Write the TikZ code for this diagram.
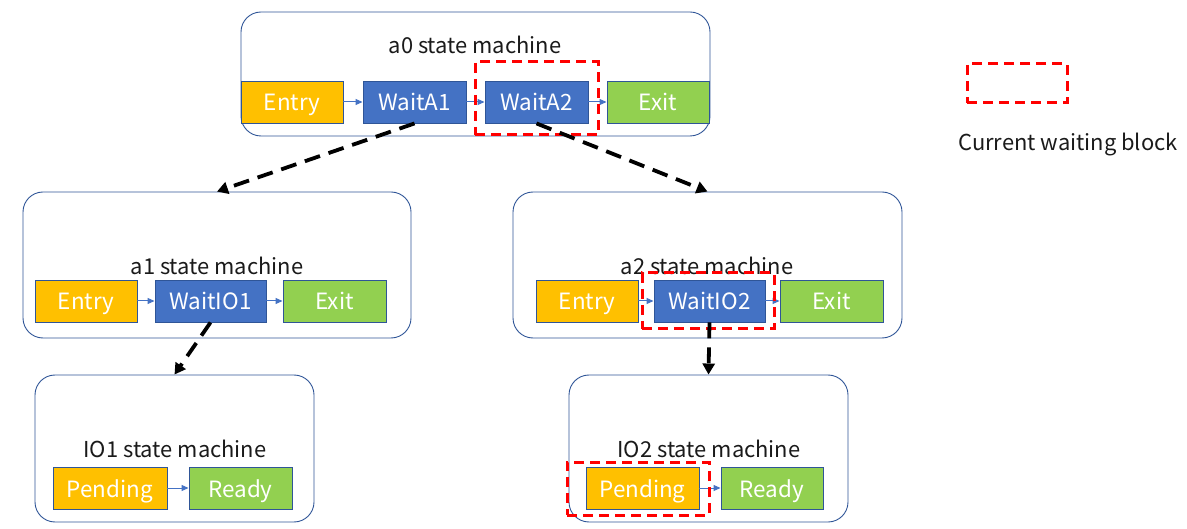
\documentclass[tikz,border=0pt]{standalone}
\usepackage{fontspec}
\setmainfont{Noto Sans CJK SC}
\usetikzlibrary{arrows.meta}
\definecolor{frameblue}{HTML}{2F5597}
\definecolor{stateblue}{HTML}{4472C4}
\definecolor{stateorange}{HTML}{FFC000}
\definecolor{stategreen}{HTML}{92D050}
\definecolor{titletext}{HTML}{1A1A1A}
\tikzset{
  machine/.style={draw=frameblue, line width=0.9bp, rounded corners=20bp, inner sep=0pt},
  title/.style={text=titletext, font=\fontsize{22}{26}\selectfont, inner sep=0pt,
                text height=18bp, text depth=0bp},
  state/.style={draw=frameblue, line width=0.9bp, minimum height=42bp, inner sep=0pt,
                text=white, font=\fontsize{22.5}{26}\selectfont,
                text height=18bp, text depth=0bp},
  entrybox/.style={state, fill=stateorange},
  waitbox/.style={state, fill=stateblue},
  exitbox/.style={state, fill=stategreen},
  current/.style={draw=red, line width=3bp, dash pattern=on 10bp off 6bp, inner sep=0pt},
  flow/.style={draw=stateblue, line width=1bp, -{Triangle[length=7bp,width=6bp]}},
  descend/.style={draw=black, line width=3.8bp, dash pattern=on 16bp off 9bp,
                  -{Triangle[length=11bp,width=12bp]}},
}
\begin{document}
\begin{tikzpicture}[x=1bp,y=-1bp]
\useasboundingbox (0,0) rectangle (1187,529);

% containers
\node[machine, minimum width=469bp, minimum height=124bp] (a0) at (475.5,74) {};
\node[machine, minimum width=388bp, minimum height=146bp] (a1) at (217,265) {};
\node[machine, minimum width=389bp, minimum height=146bp] (a2) at (707.5,265) {};
\node[machine, minimum width=279bp, minimum height=147bp] (io1) at (174.5,448.5) {};
\node[machine, minimum width=279bp, minimum height=147bp] (io2) at (708.5,448.5) {};

% titles (baseline sits 9bp below the given point)
\node[title] (t0) at (475,45) {a0 state machine};
\node[title] (t1) at (217,266) {a1 state machine};
\node[title] (t2) at (707,266) {a2 state machine};
\node[title] (t3) at (175,448) {IO1 state machine};
\node[title] (t4) at (709,448) {IO2 state machine};

% a0 states
\node[entrybox, minimum width=102bp] (a0entry) at (292,102) {Entry};
\node[waitbox, minimum width=103bp] (waitA1) at (414.5,102) {WaitA1};
\node[waitbox, minimum width=103bp] (waitA2) at (536.5,102) {WaitA2};
\node[exitbox, minimum width=102bp] (a0exit) at (658,102) {Exit};

% a1 states
\node[entrybox, minimum width=102bp] (a1entry) at (86,301) {Entry};
\node[waitbox, minimum width=111bp] (waitIO1) at (210.5,301) {WaitIO1};
\node[exitbox, minimum width=103bp] (a1exit) at (334.5,301) {Exit};

% a2 states
\node[entrybox, minimum width=102bp] (a2entry) at (587,301) {Entry};
\node[waitbox, minimum width=111bp] (waitIO2) at (709.5,301) {WaitIO2};
\node[exitbox, minimum width=103bp] (a2exit) at (831.5,301) {Exit};

% IO1 states
\node[entrybox, minimum width=114bp] (io1pend) at (110,488) {Pending};
\node[exitbox, minimum width=103bp] (io1ready) at (240.5,488) {Ready};

% IO2 states
\node[entrybox, minimum width=113bp] (io2pend) at (642.5,488) {Pending};
\node[exitbox, minimum width=102bp] (io2ready) at (772,488) {Ready};

% transitions
\draw[flow] (a0entry) -- (waitA1);
\draw[flow] (waitA1) -- (waitA2);
\draw[flow] (waitA2) -- (a0exit);
\draw[flow] (a1entry) -- (waitIO1);
\draw[flow] (waitIO1) -- (a1exit);
\draw[flow] (a2entry) -- (waitIO2);
\draw[flow] (waitIO2) -- (a2exit);
\draw[flow] (io1pend) -- (io1ready);
\draw[flow] (io2pend) -- (io2ready);

% current waiting blocks
\node[current, minimum width=123bp, minimum height=73bp] (curA2) at (536.5,98.5) {};
\node[current, minimum width=132bp, minimum height=56bp] (curIO2) at (708,301) {};
\node[current, minimum width=142bp, minimum height=53bp] (curPend) at (638,488.5) {};

% calls into sub-machines
\draw[descend] (waitA1.south) -- (a1.north);
\draw[descend] (waitA2.south) -- (a2.north);
\draw[descend] (waitIO1.south) -- (io1.north);
\draw[descend] (waitIO2.south) -- (io2.north);

% legend
\node[current, minimum width=100bp, minimum height=39bp] (legbox) at (1017,83.5) {};
\node[title] (legtext) at (1068,142) {Current waiting block};
\end{tikzpicture}
\end{document}
